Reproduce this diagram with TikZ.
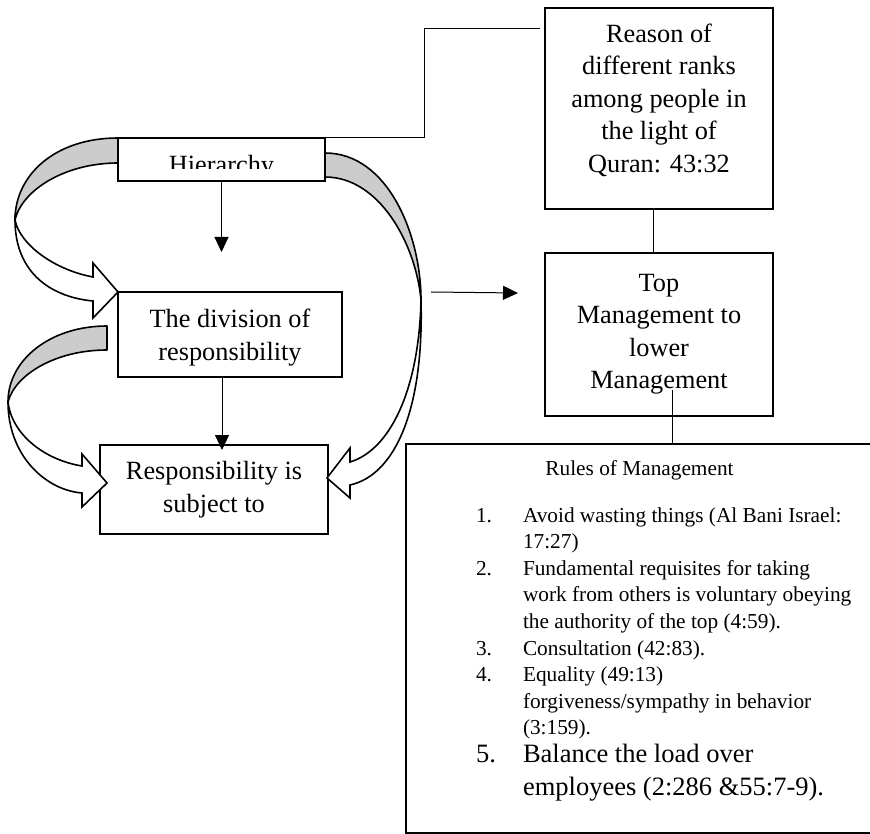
\documentclass[tikz,border=0pt]{standalone}
\usepackage{fontspec}
\setmainfont{Liberation Serif}
\usetikzlibrary{arrows.meta}
\newcommand\txtB{\fontsize{26.3}{33}\selectfont}
\newcommand\txtR{\fontsize{26.3}{32.5}\selectfont}
\newcommand\txtT{\fontsize{26.3}{32.6}\selectfont}
\newcommand\txtS{\fontsize{21.3}{26.6}\selectfont}
\newcommand\txtF{\fontsize{26.5}{33}\selectfont}
\begin{document}
\begin{tikzpicture}[x=1pt,y=-1pt,
  box/.style={draw, line width=2pt, rectangle, inner sep=0pt, outer sep=0pt, fill=white},
  conn/.style={line width=1pt},
  arr/.style={line width=1pt, -{Triangle[length=15pt,width=14pt]}},
  back/.style={draw, line width=1.6pt, fill=gray!40, line join=round},
  front/.style={draw, line width=1.6pt, fill=white, line join=miter},
  txt/.style={inner sep=0pt, outer sep=0pt, align=center, anchor=north},
  num/.style={inner sep=0pt, outer sep=0pt, anchor=base west, font=\txtS},
]
\useasboundingbox (0,0) rectangle (870,834);
\clip (0,0) rectangle (870,834);

% boxes
\node[box, minimum width=207pt, minimum height=43pt] (hier) at (221.5,159.5) {};
\node[box, minimum width=228pt, minimum height=201pt] (reason) at (659,108.5) {};
\node[box, minimum width=228pt, minimum height=163pt] (top) at (659,334.5) {};
\node[box, minimum width=224pt, minimum height=85pt] (div) at (230,334.5) {};
\node[box, minimum width=228pt, minimum height=89pt] (resp) at (214,489.5) {};
\node[box, minimum width=480pt, minimum height=389pt] (rules) at (646,638.5) {};

% connectors
\coordinate (rsEnd) at (540,29);
\draw[conn] (hier.north east) -- (424,138) |- (rsEnd);
\draw[conn] ([xshift=-6pt]reason.south) -- ([xshift=-6pt]top.north);
\coordinate (tmStart) at (672,390);
\draw[conn] (tmStart) -- (tmStart |- rules.north);
\coordinate (a1) at (221.5,252);
\draw[arr] (hier.south) -- (a1);
\coordinate (a2) at (222,450);
\draw[arr] (a2 |- div.south) -- (a2);
\coordinate (fa1) at (431,292);
\coordinate (fa2) at (518,293);
\draw[arr] (fa1) -- (fa2);

% curved arrow A: hierarchy -> division
\path[back] (hier.north west) .. controls (55,138) and (15,175) .. (15,220)
   .. controls (22,190) and (65,163) .. (118,163) -- cycle;
\path[front] (15,220) .. controls (15,272) and (50,297) .. (93,301) -- (93,318)
   -- (div.north west) -- (93,263) -- (93,277)
   .. controls (55,270) and (20,245) .. (15,220) -- cycle;

% curved arrow B: division -> responsibility
\path[back] (107,326) .. controls (50,326) and (8,360) .. (8,402)
   .. controls (15,375) and (55,350) .. (107,350) -- cycle;
\path[front] (8,402) .. controls (8,455) and (45,490) .. (82,493) -- (82,507)
   -- (107,483) -- (82,454) -- (82,466)
   .. controls (45,460) and (12,435) .. (8,402) -- cycle;

% curved arrow C: hierarchy -> responsibility (right side)
\path[back] (325,153) .. controls (388,153) and (421,235) .. (421,300)
   .. controls (416,245) and (380,177) .. (325,177) -- cycle;
\path[front] (421,300) .. controls (424,410) and (395,475) .. (350,485) -- (350,498)
   -- (327,478) -- (350,448) -- (350,462)
   .. controls (390,450) and (419,390) .. (421,300) -- cycle;

% texts
\begin{scope}
\clip (118,138) rectangle (325,169);
\node[txt, font=\txtB] (hiertxt) at (221.5,154) {\rule{0pt}{20pt}Hierarchy};
\end{scope}
\node[txt, font=\txtR] (reasontxt) at (659,22.5) {\rule{0pt}{20pt}Reason of\\different ranks\\among people in\\the light of\\Quran: 43:32};
\node[txt, font=\txtT] (toptxt) at (659,271) {\rule{0pt}{20pt}Top\\Management to\\lower\\Management};
\node[txt, font=\txtB] (divtxt) at (230,307) {\rule{0pt}{20pt}The division of\\responsibility};
\node[txt, font=\txtB] (resptxt) at (214,459) {\rule{0pt}{20pt}Responsibility is\\subject to};

\node[txt, font=\txtS] (rulestitle) at (639.5,458) {\rule{0pt}{17pt}Rules of Management};
\node[txt, font=\txtS, anchor=north west, align=left] (rulesbody) at (523,505) {\rule{0pt}{17pt}Avoid wasting things (Al Bani Israel:\\17:27)\\Fundamental requisites for taking\\work from others is voluntary obeying\\the authority of the top (4:59).\\Consultation (42:83).\\Equality (49:13)\\forgiveness/sympathy in behavior\\(3:159).};
\node[num] (n1) at (476,522) {1.};
\node[num] (n2) at (476,575.2) {2.};
\node[num] (n3) at (476,655) {3.};
\node[num] (n4) at (476,681.6) {4.};
\node[num, font=\txtF] (n5) at (476,762) {5.};
\node[txt, font=\txtF, anchor=north west, align=left] (item5) at (523,742) {\rule{0pt}{20pt}Balance the load over\\employees (2:286 \&55:7-9).};
\end{tikzpicture}
\end{document}
